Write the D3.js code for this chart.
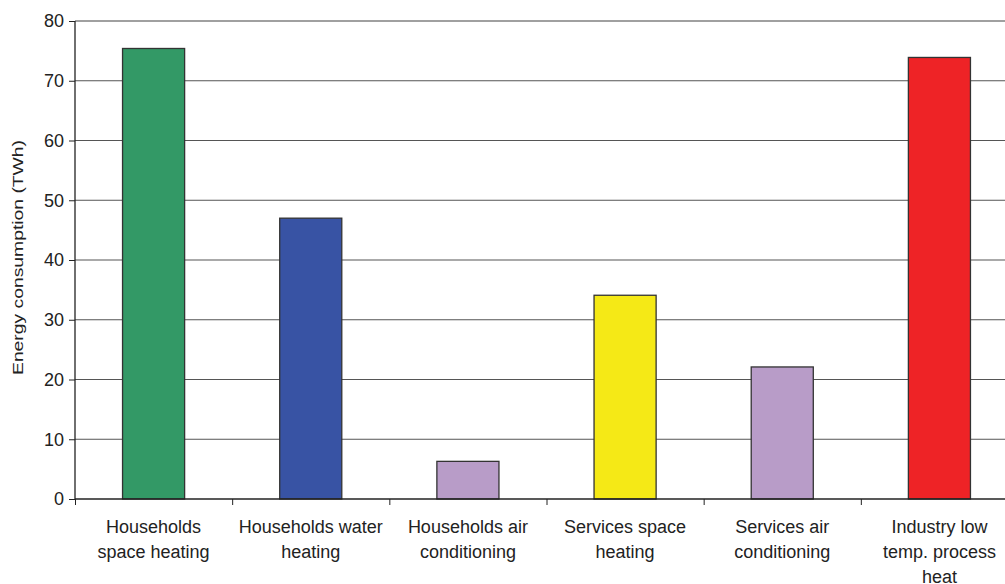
<!DOCTYPE html>
<html><head><meta charset="utf-8">
<script src="https://cdn.jsdelivr.net/npm/d3@7"></script>
<style>html,body{margin:0;padding:0;background:#fff;overflow:hidden}</style>
</head><body>
<svg id="c" width="1005" height="584"></svg>
<script>
const categories = [
  ["Households", "space heating"],
  ["Households water", "heating"],
  ["Households air", "conditioning"],
  ["Services space", "heating"],
  ["Services air", "conditioning"],
  ["Industry low", "temp. process", "heat"]
];
const values = [75.4, 47.0, 6.3, 34.1, 22.1, 73.9];
const colors = ["#339966", "#3853a4", "#b89cc8", "#f5e916", "#b89cc8", "#ee2326"];
const yTicks = [0, 10, 20, 30, 40, 50, 60, 70, 80];
const yLabel = "Energy consumption (TWh)";

(function () {
const svg = d3.select("#c");
const font = "'Liberation Sans', Arial, sans-serif";
const mLeft = 75, mRight = 1018, mTop = 21, mBottom = 499;

const x = d3.scaleBand().domain(d3.range(categories.length)).range([mLeft, mRight]).padding(0);
const y = d3.scaleLinear().domain([0, 80]).range([mBottom, mTop]);

// gridlines
svg.append("g").selectAll("line").data(yTicks.filter(d => d > 0)).join("line")
  .attr("x1", mLeft).attr("x2", 1005)
  .attr("y1", d => y(d)).attr("y2", d => y(d))
  .attr("stroke", d => d === 80 ? "#a0a0a0" : "#555")
  .attr("stroke-width", d => d === 80 ? 2 : 1);

// bars
const bw = x.bandwidth() * 0.395;
svg.append("g").selectAll("rect").data(values).join("rect")
  .attr("x", (d, i) => x(i) + x.bandwidth() / 2 - bw / 2)
  .attr("width", bw)
  .attr("y", d => y(d))
  .attr("height", d => y(0) - y(d))
  .attr("fill", (d, i) => colors[i])
  .attr("stroke", "#333").attr("stroke-width", 1.3);

// y axis
const ya = svg.append("g").attr("transform", `translate(${mLeft},0)`)
  .call(d3.axisLeft(y).tickValues(yTicks).tickSize(6).tickPadding(5));
ya.select(".domain").attr("stroke", "#222").attr("stroke-width", 1.3).attr("d", `M0,${y(80)}V${mBottom}`);
ya.selectAll(".tick line").attr("stroke", "#222");
ya.selectAll(".tick text").attr("font-family", font).attr("font-size", 18).attr("fill", "#222");

// x axis
const xTickScale = d3.scaleLinear().domain([0, categories.length]).range([mLeft, mRight]);
const xa = svg.append("g").attr("transform", `translate(0,${mBottom})`)
  .call(d3.axisBottom(xTickScale).tickValues(d3.range(categories.length + 1)).tickSize(6).tickFormat(""));
xa.select(".domain").attr("stroke", "#222").attr("stroke-width", 1.3).attr("d", `M${mLeft},0H1005`);
xa.selectAll(".tick line").attr("stroke", "#222");

// x labels
const lab = svg.append("g").selectAll("text").data(categories).join("text")
  .attr("x", (d, i) => x(i) + x.bandwidth() / 2)
  .attr("y", 533)
  .attr("text-anchor", "middle")
  .attr("font-family", font).attr("font-size", 18).attr("fill", "#222");
lab.selectAll("tspan").data(d => d).join("tspan")
  .attr("x", function () { return this.parentNode.getAttribute("x"); })
  .attr("dy", (d, i) => i === 0 ? 0 : 25)
  .text(d => d);

// y label
svg.append("text")
  .attr("transform", `translate(23,${(140 + 375) / 2}) rotate(-90)`)
  .attr("text-anchor", "middle")
  .attr("font-family", font).attr("font-size", 15.5).attr("fill", "#222")
  .attr("textLength", 235).attr("lengthAdjust", "spacingAndGlyphs")
  .text(yLabel);
})();
</script>
</body></html>
